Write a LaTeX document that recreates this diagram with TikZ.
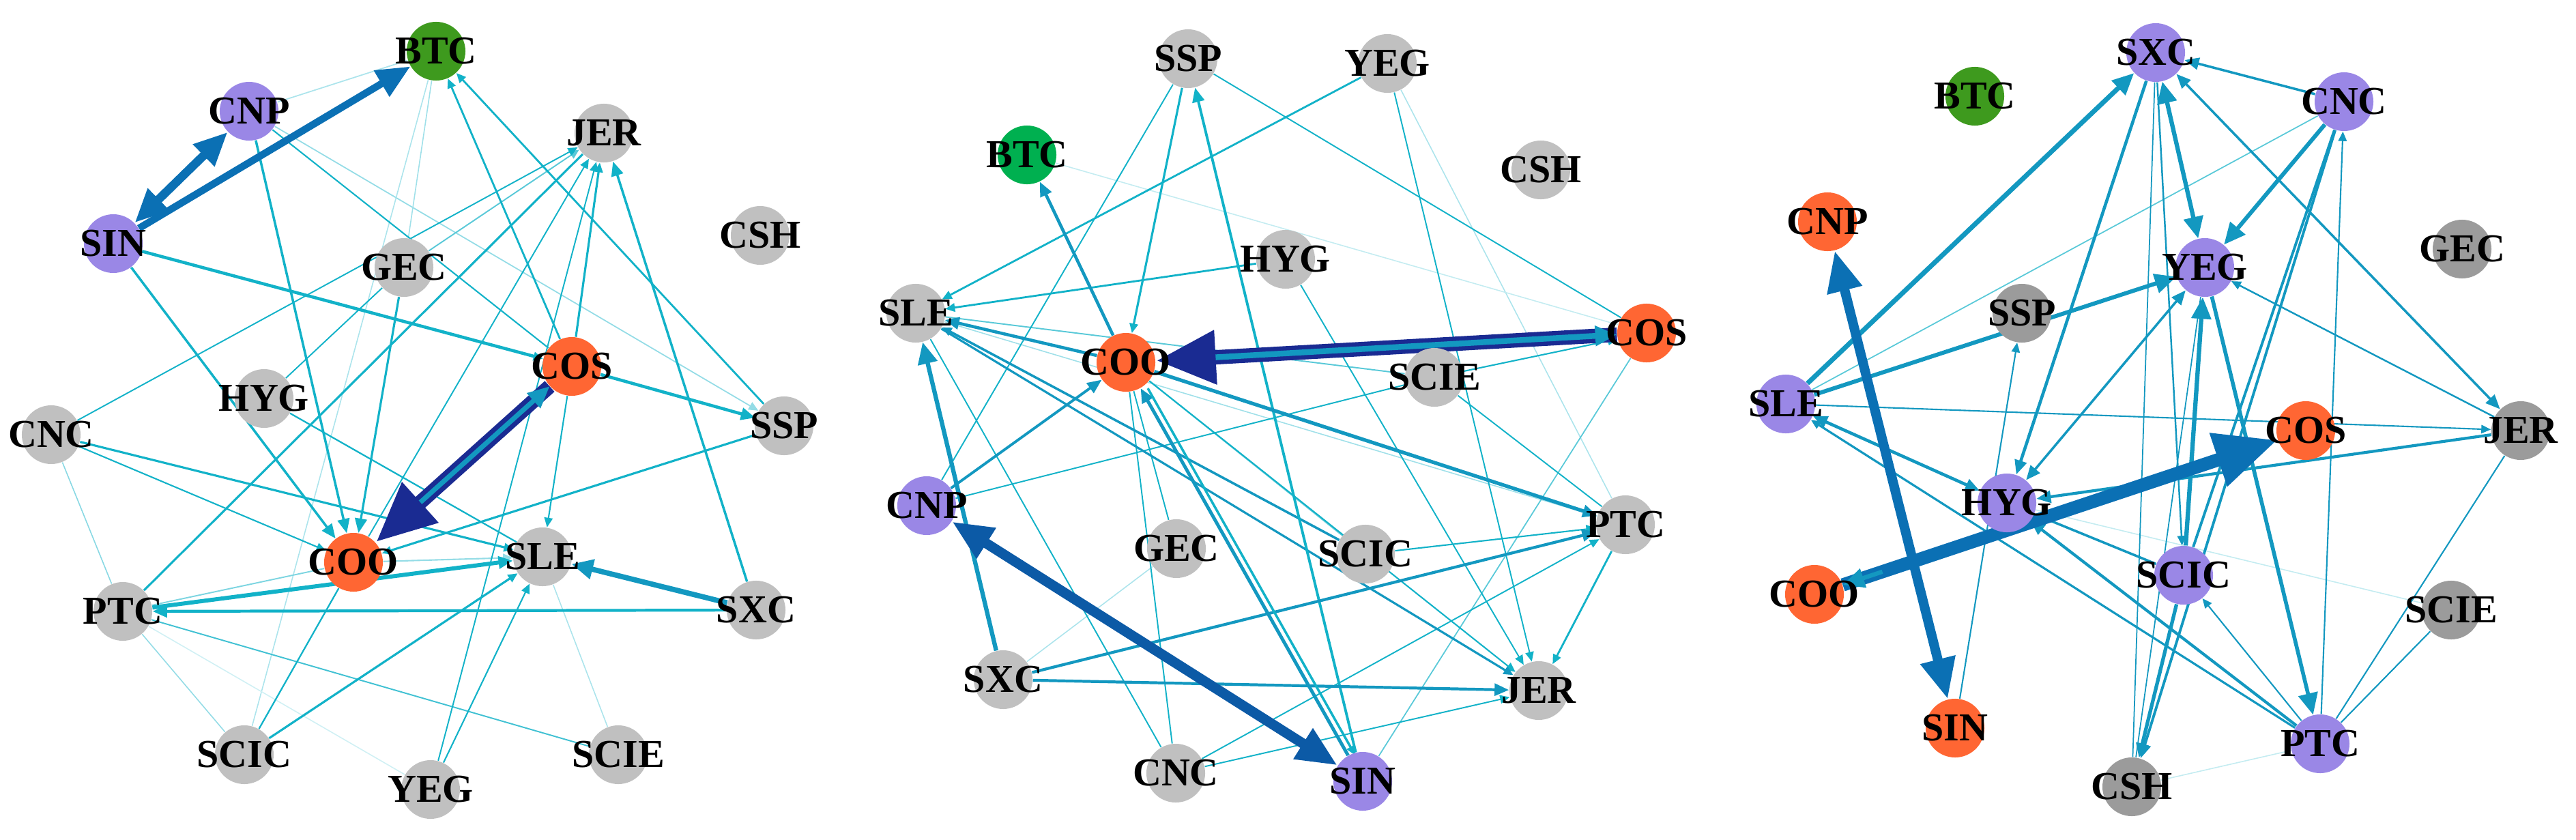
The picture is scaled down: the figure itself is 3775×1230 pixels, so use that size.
\documentclass[tikz,border=0pt]{standalone}
\usepackage{fontspec}
\setmainfont{Liberation Serif}
\usetikzlibrary{arrows.meta,backgrounds}
\definecolor{ecy}{HTML}{12B2C8}
\definecolor{ecb}{HTML}{1398C0}
\definecolor{eblu}{HTML}{0B70B4}
\definecolor{ebl2}{HTML}{0C5AA6}
\definecolor{enavy}{HTML}{1A2B92}
\definecolor{ngray}{HTML}{C0C0C0}
\definecolor{ngrayd}{HTML}{9B9B9B}
\definecolor{npur}{HTML}{9A87E6}
\definecolor{nora}{HTML}{FF6633}
\definecolor{ngrn}{HTML}{3E9A1E}
\definecolor{ngrnb}{HTML}{00B050}
\newcommand\mknode[4]{\node[#1] (#2) at (#3) {\makebox[0pt][c]{#4}};}
\tikzset{
 nd/.style={circle,minimum size=0.86cm,inner sep=0pt,font=\fontsize{16.5}{17}\selectfont\bfseries},
 gy/.style={nd,fill=ngray}, gd/.style={nd,fill=ngrayd}, pu/.style={nd,fill=npur},
 orn/.style={nd,fill=nora}, gn/.style={nd,fill=ngrn}, gnb/.style={nd,fill=ngrnb},
 tS/.style={-{Triangle[length=4pt,width=3.5pt]}},
 tM/.style={-{Triangle[length=6pt,width=5pt]}},
 tL/.style={-{Triangle[length=9pt,width=8pt]}},
 tX/.style={-{Triangle[length=14pt,width=12pt]}},
 tN/.style={-{Triangle[length=25pt,width=21pt]}},
 tMM/.style={{Triangle[length=6pt,width=5pt]}-{Triangle[length=6pt,width=5pt]}},
 tLL/.style={{Triangle[length=9pt,width=8pt]}-{Triangle[length=9pt,width=8pt]}},
 tXX/.style={{Triangle[length=14pt,width=12pt]}-{Triangle[length=14pt,width=12pt]}},
 tYY/.style={{Triangle[length=17pt,width=14pt]}-{Triangle[length=17pt,width=14pt]}},
}
\begin{document}
\begin{tikzpicture}[x=0.01cm,y=-0.01cm]
\useasboundingbox (0,0) rectangle (3775,1230);
% ---------- panel 1 ----------
\mknode{gn}{aBTC}{639,75}{BTC}
\mknode{pu}{aCNP}{365,163}{CNP}
\mknode{pu}{aSIN}{166,357}{SIN}
\mknode{gy}{aJER}{885,195}{JER}
\mknode{gy}{aCSH}{1114,345}{CSH}
\mknode{gy}{aGEC}{592,392}{GEC}
\mknode{orn}{aCOS}{838,537}{COS}
\mknode{gy}{aHYG}{387,584}{HYG}
\mknode{gy}{aSSP}{1149,624}{SSP}
\mknode{gy}{aCNC}{75,637}{CNC}
\mknode{orn}{aCOO}{518,824}{COO}
\mknode{gy}{aSLE}{795,816}{SLE}
\mknode{gy}{aPTC}{180,896}{PTC}
\mknode{gy}{aSXC}{1108,894}{SXC}
\mknode{gy}{aSCIC}{358,1106}{SCIC}
\mknode{gy}{aYEG}{631,1157}{YEG}
\mknode{gy}{aSCIE}{906,1106}{SCIE}
% ---------- panel 2 ----------
\mknode{gy}{bSSP}{1741,86}{SSP}
\mknode{gy}{bYEG}{2033,93}{YEG}
\mknode{gnb}{bBTC}{1505,227}{BTC}
\mknode{gy}{bCSH}{2258,249}{CSH}
\mknode{gy}{bHYG}{1884,380}{HYG}
\mknode{gy}{bSLE}{1342,459}{SLE}
\mknode{orn}{bCOS}{2413,488}{COS}
\mknode{orn}{bCOO}{1650,531}{COO}
\mknode{gy}{bSCIE}{2102,553}{SCIE}
\mknode{pu}{bCNP}{1358,741}{CNP}
\mknode{gy}{bPTC}{2382,769}{PTC}
\mknode{gy}{bGEC}{1724,804}{GEC}
\mknode{gy}{bSCIC}{2001,812}{SCIC}
\mknode{gy}{bSXC}{1470,996}{SXC}
\mknode{gy}{bJER}{2255,1012}{JER}
\mknode{gy}{bCNC}{1723,1133}{CNC}
\mknode{pu}{bSIN}{1997,1145}{SIN}
% ---------- panel 3 ----------
\mknode{pu}{cSXC}{3159,77}{SXC}
\mknode{gn}{cBTC}{2894,141}{BTC}
\mknode{pu}{cCNC}{3435,149}{CNC}
\mknode{orn}{cCNP}{2678,325}{CNP}
\mknode{gd}{cGEC}{3608,365}{GEC}
\mknode{pu}{cYEG}{3231,392}{YEG}
\mknode{gd}{cSSP}{2963,459}{SSP}
\mknode{pu}{cSLE}{2617,592}{SLE}
\mknode{orn}{cCOS}{3379,631}{COS}
\mknode{gd}{cJER}{3694,631}{JER}
\mknode{pu}{cHYG}{2941,737}{HYG}
\mknode{orn}{cCOO}{2659,871}{COO}
\mknode{pu}{cSCIC}{3200,843}{SCIC}
\mknode{gd}{cSCIE}{3592,894}{SCIE}
\mknode{orn}{cSIN}{2865,1067}{SIN}
\mknode{pu}{cPTC}{3400,1090}{PTC}
\mknode{gd}{cCSH}{3124,1153}{CSH}
\begin{scope}[on background layer]
% ---------- panel 1 edges ----------
\draw[ecy!35,line width=0.5pt] (aCNP) -- (aBTC);
\draw[ecy!45,line width=0.5pt,tS] (aCNP) -- (aSSP);
\draw[ecy!40,line width=0.45pt] (aBTC) -- (aGEC);
\draw[ecy!35,line width=0.45pt] (aBTC) -- (aSCIC);
\draw[ecy!50,line width=0.45pt] (aCNC) -- (aPTC);
\draw[ecy!45,line width=0.45pt] (aPTC) -- (aSCIC);
\draw[ecy!20,line width=0.45pt] (aPTC) -- (aYEG);
\draw[ecy!35,line width=0.45pt] (aSLE) -- (aSCIE);
\draw[ecy!70,line width=0.55pt,tS] (aGEC) -- (aJER);
\draw[ecy!45,line width=0.6pt,tS] (aCOO) -- (aSLE);
\draw[ecy!55,line width=0.55pt] (aCOO) -- (aPTC);
\draw[ecy!80,line width=0.55pt] (aPTC) -- (aSCIE);
\draw[ecy,line width=0.6pt] (aCNP) -- (aCOS);
\draw[ecy,line width=0.55pt,tS] (aCNC) -- (aJER);
\draw[ecy,line width=0.6pt,tS] (aCNC) -- (aCOO);
\draw[ecy,line width=0.65pt] (aHYG) -- (aSLE);
\draw[ecy,line width=0.65pt] (aCOO) -- (aSCIC);
\draw[ecy,line width=0.6pt,tS] (aYEG) -- (aSLE);
\draw[ecy,line width=0.55pt,tS] (aYEG) -- (aJER);
\draw[ecy,line width=0.55pt,tS] (aCOO) -- (aJER);
\draw[ecy,line width=0.55pt] (aHYG) -- (aGEC);
\draw[ecy,line width=0.6pt,tS] (aCOS) -- (aSLE);
\draw[ecy,line width=1.3pt,tS] (aSIN) -- (aCOS);
\draw[ecy,line width=1pt,tM] (aCNP) -- (aCOO);
\draw[ecy,line width=1pt,tM] (aSIN) -- (aCOO);
\draw[ecy,line width=0.9pt,tM] (aGEC) -- (aCOO);
\draw[ecy,line width=1.3pt,tM] (aCOS) -- (aSSP);
\draw[ecy,line width=0.9pt,tS] (aSSP) -- (aCOO);
\draw[ecy,line width=0.8pt,tS] (aSSP) -- (aBTC);
\draw[ecy,line width=0.8pt,tS] (aCOS) -- (aBTC);
\draw[ecy,line width=0.9pt,tS] (aCOS) -- (aJER);
\draw[ecy,line width=1pt,tM] (aSXC) -- (aJER);
\draw[ecy,line width=0.9pt] (aPTC) -- (aJER);
\draw[ecy,line width=0.9pt,tS] (aCNC) -- (aSLE);
\draw[ecy,line width=0.9pt,tS] (aSCIC) -- (aSLE);
\draw[ecy,line width=1.2pt,tM] (aSXC) -- (aPTC);
\draw[ecy,line width=1.7pt,tM] (aPTC) -- (aSLE);
\draw[ecb,line width=2.2pt,tL] (aSXC) -- (aSLE);
\draw[eblu,line width=3pt,tX] (aSIN) -- (aBTC);
\draw[eblu,line width=3.6pt,tXX] (aSIN) -- (aCNP);
\draw[enavy,line width=6pt,tN] (aCOS) -- (aCOO);
\draw[ecb,line width=2pt,tL,shorten <=25pt] (aCOO) -- (aCOS);
% ---------- panel 2 edges ----------
\draw[ecy!35,line width=0.45pt] (bYEG) -- (bPTC);
\draw[ecy!25,line width=0.45pt] (bBTC) -- (bCOS);
\draw[ecy!35,line width=0.45pt] (bSXC) -- (bGEC);
\draw[ecy!40,line width=0.45pt] (bSLE) -- (bPTC);
\draw[ecy!70,line width=0.5pt] (bCOS) -- (bSIN);
\draw[ecy!70,line width=0.55pt] (bSCIE) -- (bSLE);
\draw[ecy!60,line width=0.55pt] (bCOO) -- (bSCIC);
\draw[ecy,line width=0.55pt] (bCNP) -- (bSCIE);
\draw[ecy,line width=0.55pt] (bSSP) -- (bCNP);
\draw[ecy,line width=0.55pt] (bSSP) -- (bCOS);
\draw[ecy,line width=0.55pt,tS] (bYEG) -- (bJER);
\draw[ecy,line width=0.55pt,tS] (bHYG) -- (bJER);
\draw[ecy,line width=0.55pt] (bSCIE) -- (bPTC);
\draw[ecy,line width=0.55pt] (bCNC) -- (bSLE);
\draw[ecy,line width=0.55pt] (bCNC) -- (bCOO);
\draw[ecy,line width=0.55pt] (bGEC) -- (bCOO);
\draw[ecy,line width=0.55pt,tS] (bCNC) -- (bPTC);
\draw[ecy,line width=0.55pt,tS] (bCNC) -- (bJER);
\draw[ecy,line width=0.6pt,tS] (bSCIC) -- (bPTC);
\draw[ecy,line width=0.6pt,tS] (bSCIE) -- (bCOS);
\draw[ecy,line width=0.6pt,tS] (bCOO) -- (bJER);
\draw[ecy,line width=0.8pt,tS] (bYEG) -- (bSLE);
\draw[ecy,line width=0.8pt,tS] (bHYG) -- (bSLE);
\draw[ecy,line width=0.8pt,tS] (bPTC) -- (bJER);
\draw[ecb,line width=0.9pt,tS] (bSLE) -- (bJER);
\draw[ecb,line width=1pt,tS] (bSCIC) -- (bSLE);
\draw[ecy,line width=0.9pt,tS] (bSSP) -- (bCOO);
\draw[ecy,line width=1.1pt,tM] (bSIN) -- (bSSP);
\draw[ecb,line width=1.1pt,tM] (bCNP) -- (bCOO);
\draw[ecb,line width=1.2pt,tM] (bSXC) -- (bPTC);
\draw[ecb,line width=1.2pt,tM] (bSXC) -- (bJER);
\draw[ecb,line width=1.3pt,tM] (bCOO) -- (bSLE);
\draw[ecb,line width=1.3pt,tM] (bCOO) -- (bBTC);
\draw[ecb,line width=1.5pt,tM] (bCOO) -- (bPTC);
\draw[ecb,line width=1.4pt,tM] (bSIN) -- (bCOO);
\draw[ecy,line width=1pt,tS,transform canvas={xshift=3pt}] (bCOO) -- (bSIN);
\draw[ecb,line width=1.8pt,tL] (bSXC) -- (bSLE);
\draw[ebl2,line width=4.2pt,tYY] (bCNP) -- (bSIN);
\draw[enavy,line width=6pt,tN] (bCOS) -- (bCOO);
\draw[ecb,line width=2.4pt,tL,shorten <=25pt] (bCOO) -- (bCOS);
% ---------- panel 3 edges ----------
\draw[ecy!25,line width=0.45pt] (cSCIE) -- (cHYG);
\draw[ecy!25,line width=0.45pt] (cPTC) -- (cCSH);
\draw[ecy!70,line width=0.5pt] (cCNC) -- (cSLE);
\draw[ecb,line width=0.5pt] (cSXC) -- (cCSH);
\draw[ecb,line width=0.5pt] (cCSH) -- (cYEG);
\draw[ecb,line width=0.6pt] (cJER) -- (cPTC);
\draw[ecb,line width=0.6pt] (cSCIE) -- (cPTC);
\draw[ecb,line width=0.6pt,tS] (cPTC) -- (cCNC);
\draw[ecb,line width=0.6pt,tS] (cSIN) -- (cSSP);
\draw[ecb,line width=0.6pt,tS] (cPTC) -- (cSCIC);
\draw[ecb,line width=0.6pt,tS] (cSLE) -- (cJER);
\draw[ecb,line width=0.7pt,tS] (cSXC) -- (cSCIC);
\draw[ecb,line width=0.7pt,tS] (cJER) -- (cYEG);
\draw[ecb,line width=0.9pt,tS] (cPTC) -- (cSLE);
\draw[ecb,line width=1pt,tM] (cCNC) -- (cSXC);
\draw[ecb,line width=1pt,tMM] (cSXC) -- (cJER);
\draw[ecb,line width=1pt,tMM] (cHYG) -- (cYEG);
\draw[ecb,line width=1pt,tM] (cSCIC) -- (cHYG);
\draw[ecb,line width=1.1pt] (cCNC) -- (cSCIC);
\draw[ecb,line width=1.1pt,tM] (cCNC) -- (cCSH);
\draw[ecb,line width=1.2pt,tM] (cJER) -- (cHYG);
\draw[ecb,line width=1.2pt,tM] (cPTC) -- (cHYG);
\draw[ecb,line width=1.3pt,tM] (cSXC) -- (cHYG);
\draw[ecb,line width=1.3pt,tMM] (cSLE) -- (cHYG);
\draw[ecb,line width=1.5pt,tM] (cSCIC) -- (cCSH);
\draw[ecb,line width=1.6pt,tL] (cYEG) -- (cPTC);
\draw[ecb,line width=1.7pt,tL] (cCNC) -- (cYEG);
\draw[ecb,line width=1.7pt,tL] (cSLE) -- (cYEG);
\draw[ecb,line width=1.8pt,tL] (cSCIC) -- (cYEG);
\draw[ecb,line width=1.8pt,tLL] (cSXC) -- (cYEG);
\draw[ecb,line width=2pt,tL] (cSLE) -- (cSXC);
\draw[eblu,line width=4pt,tYY] (cCNP) -- (cSIN);
\draw[eblu,line width=5.5pt,-{Triangle[length=26pt,width=22pt]}] (cCOO) -- (cCOS);
\draw[ecb,line width=1.8pt,tL,shorten <=6.1cm] (cCOS) -- (cCOO);
\end{scope}
\end{tikzpicture}
\end{document}
